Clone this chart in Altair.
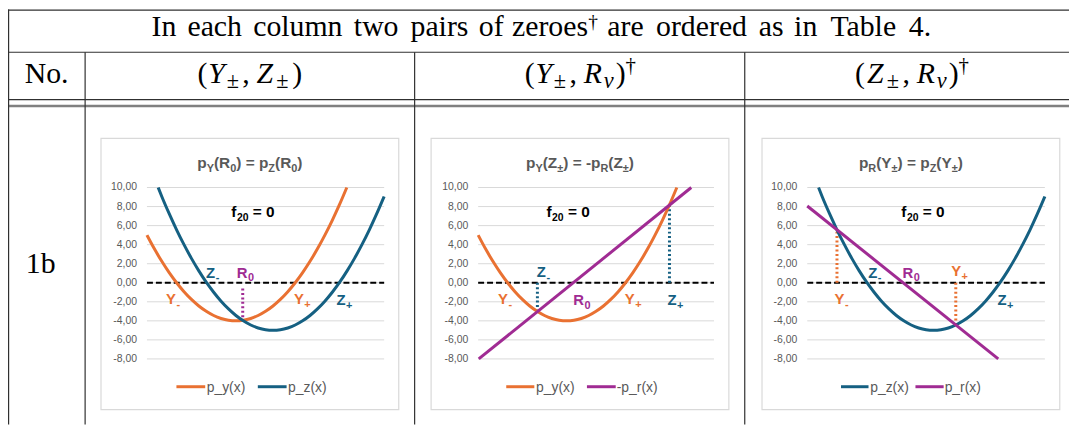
import altair as alt
import pandas as pd

# ---------------- chart values ----------------
X_PY = [-3.0, -2.75, -2.5, -2.25, -2.0, -1.75, -1.5, -1.25, -1.0, -0.75, -0.5, -0.25, 0.0,
        0.25, 0.5, 0.75, 1.0, 1.25, 1.5, 1.75, 2.0, 2.25, 2.5, 2.75, 3.0, 3.25, 3.5, 3.74]
P_Y = [5.0, 3.56, 2.25, 1.06, 0.0, -0.94, -1.75, -2.44, -3.0, -3.44, -3.75, -3.94, -4.0,
       -3.94, -3.75, -3.44, -3.0, -2.44, -1.75, -0.94, 0.0, 1.06, 2.25, 3.56, 5.0, 6.56, 8.25, 10.0]
X_PZ = [-2.62, -2.5, -2.25, -2.0, -1.75, -1.5, -1.25, -1.0, -0.75, -0.5, -0.25, 0.0, 0.25, 0.5,
        0.75, 1.0, 1.25, 1.5, 1.75, 2.0, 2.25, 2.5, 2.75, 3.0, 3.25, 3.5, 3.75, 4.0, 4.25, 4.5, 4.75, 5.0]
P_Z = [10.0, 9.06, 7.25, 5.56, 4.0, 2.56, 1.25, 0.06, -1.0, -1.94, -2.75, -3.44, -4.0, -4.44,
       -4.75, -4.94, -5.0, -4.94, -4.75, -4.44, -4.0, -3.44, -2.75, -1.94, -1.0, 0.06, 1.25, 2.56,
       4.0, 5.56, 7.25, 9.06]
X_NEG_PR = [-2.98, 4.23]
NEG_P_R = [-8.0, 10.0]
X_PR = [-3.0, 3.43]
P_R = [8.06, -8.0]

X_DOMAIN = [-3, 5]
Y_DOMAIN = [-8, 10]
Y_TICKS = [10, 8, 6, 4, 2, 0, -2, -4, -6, -8]
Y_TICK_LABELS = ["10,00", "8,00", "6,00", "4,00", "2,00", "0,00", "-2,00", "-4,00", "-6,00", "-8,00"]

PANEL_SERIES = [["p_y(x)", "p_z(x)"], ["p_y(x)", "-p_r(x)"], ["p_z(x)", "p_r(x)"]]

# dotted drop lines: x, y from, y to
DROPS = [
    [(0.23, -0.6, -3.95)],
    [(-0.99, 0.0, -3.03), (3.49, 0.0, 8.15)],
    [(-2.0, 0.0, 5.56), (2.0, 0.0, -4.44)],
]
# zero labels: letter, subscript, x, y, series colour key
LABELS = [
    [("Z", "-", -0.70, 0.52, "b"), ("R", "0", 0.39, 0.52, "p"), ("Y", "-", -2.02, -2.26, "o"),
     ("Y", "+", 2.29, -2.26, "o"), ("Z", "+", 3.70, -2.36, "b")],
    [("Z", "-", -0.70, 0.58, "b"), ("Y", "-", -1.99, -2.26, "o"), ("R", "0", 0.59, -2.36, "p"),
     ("Y", "+", 2.31, -2.26, "o"), ("Z", "+", 3.73, -2.36, "b")],
    [("Y", "-", -1.75, -2.26, "o"), ("Z", "-", -0.64, 0.52, "b"), ("R", "0", 0.57, 0.52, "p"),
     ("Y", "+", 2.18, 0.69, "o"), ("Z", "+", 3.71, -2.36, "b")],
]
F20_POS = [(0.02, 6.88), (-0.51, 6.88), (0.34, 6.88)]

# chart titles as (text, is_subscript) pieces
TITLES = [
    [("p", 0), ("Y", 1), ("(R", 0), ("0", 1), (") = p", 0), ("Z", 1), ("(R", 0), ("0", 1), (")", 0)],
    [("p", 0), ("Y", 1), ("(Z", 0), ("±", 1), (") = -p", 0), ("R", 1), ("(Z", 0), ("±", 1), (")", 0)],
    [("p", 0), ("R", 1), ("(Y", 0), ("±", 1), (") = p", 0), ("Z", 1), ("(Y", 0), ("±", 1), (")", 0)],
]

HEADER_SENTENCE = "In each column two pairs of zeroes† are ordered as in Table 4."
COL_NO = "No."
ROW_LABEL = "1b"
# column headers: (text, italic, level 0 normal / 1 sub / 2 sup, extra space after in em)
COL_HEADS = [
    [("(", 0, 0, 0), ("Y", 1, 0, 0), ("±", 0, 1, 0.05), (",", 0, 0, 0.167), ("Z", 1, 0, 0),
     ("±", 0, 1, 0.05), (")", 0, 0, 0)],
    [("(", 0, 0, 0), ("Y", 1, 0, 0), ("±", 0, 1, 0.05), (",", 0, 0, 0.167), ("R", 1, 0, 0),
     ("ν", 1, 1, 0.05), (")", 0, 0, 0), ("†", 0, 2, 0)],
    [("(", 0, 0, 0), ("Z", 1, 0, 0), ("±", 0, 1, 0.05), (",", 0, 0, 0.167), ("R", 1, 0, 0),
     ("ν", 1, 1, 0.05), (")", 0, 0, 0), ("†", 0, 2, 0)],
]

# ---------------- styles / layout ----------------
ORANGE, BLUE, PURPLE = "#E97132", "#156082", "#A02B93"
COLS = {"o": ORANGE, "b": BLUE, "p": PURPLE}
SERIES = {"p_y(x)": (X_PY, P_Y, ORANGE), "p_z(x)": (X_PZ, P_Z, BLUE),
          "-p_r(x)": (X_NEG_PR, NEG_P_R, PURPLE), "p_r(x)": (X_PR, P_R, PURPLE)}
DROP_COLOR = [PURPLE, BLUE, ORANGE]
GRAY = "#595959"
GRID = "#D9D9D9"
SANS = "Liberation Sans"
SERIF = "Liberation Serif"
W, H = 1069, 418

FRAME_LEFT = [93.7, 426.3, 759.7]
FRAME_TOP, FRAME_BOTTOM = 129.7, 403.0
PLOT_X = [(140.0, 379.0), (473.7, 711.3), (805.3, 1044.7)]
Y_PIX_BOTTOM, Y_PIX_TOP = 352.0, 179.3
LEGEND_POS = [[(76, 105, 106.5), (158, 187, 188.5)],
              [(75.7, 104, 105.7), (157, 186, 187)],
              [(79.6, 107.3, 109), (154.6, 183, 184)]]

ARIAL_B = {' ': 278, '(': 333, ')': 333, '-': 333, '=': 584, '±': 549, '0': 556, '2': 556,
           'R': 722, 'Y': 667, 'Z': 611, 'p': 611, 'f': 333}
CMR = {'I': 361, 'n': 556, 'e': 444, 'a': 500, 'c': 444, 'h': 556, 'o': 500, 'l': 278, 'u': 556,
       'm': 833, 't': 389, 'w': 722, 'p': 556, 'i': 278, 'r': 392, 's': 394, 'f': 306, 'z': 444,
       'd': 556, 'T': 722, 'b': 556, '4': 500, '.': 278, ' ': 333, 'N': 750, '1': 500, '(': 389,
       ')': 389, ',': 278, '†': 444, '±': 778}
CMMI = {'Y': 583, 'Z': 681, 'R': 759, 'ν': 485}


def w_ab(s, size):
    return sum(ARIAL_B.get(c, 556) for c in s) * size / 1000.0


def w_cm(s, size, italic=False):
    t = CMMI if italic else CMR
    return sum(t.get(c, 500) for c in s) * size / 1000.0


ANN = []


def put(x, y, s, size, color="#000000", font=SERIF, weight="normal", style="normal", align="left"):
    ANN.append(dict(x=x, y=y, text=s, size=size, color=color, font=font, weight=weight,
                    style=style, align=align))


# ---- table text ----
EM = 29.0
FS = 30.0
words = HEADER_SENTENCE.split(" ")
total = 0.0
for wd in words:
    total += w_cm(wd.replace("†", ""), EM) + (w_cm("†", EM * 0.7) if "†" in wd else 0)
total += w_cm(" ", EM) * (len(words) - 1)
xc = 537.0 - total / 2
for wd in words:
    main = wd.replace("†", "")
    put(xc + w_cm(main, EM) / 2, 27.0, main, FS, align="center")
    xc += w_cm(main, EM)
    if "†" in wd:
        put(xc + 0.5, 19.0, "†", FS * 0.65)
        xc += w_cm("†", EM * 0.7)
    xc += w_cm(" ", EM)

put(38.85, 73.7, COL_NO, FS, align="center")
put(18.0, 265.3, ROW_LABEL, FS)

COL_CENTERS = [243.7, 576.0, 910.0]
for pieces, cx in zip(COL_HEADS, COL_CENTERS):
    def gw(p):
        t, it, lvl, extra = p
        return w_cm(t, EM * (0.7 if lvl else 1.0), bool(it))
    tot = sum(gw(p) + p[3] * EM for p in pieces)
    xx = cx - tot / 2
    for p in pieces:
        t, it, lvl, extra = p
        fs = FS * ({0: 1.0, 1: 0.75, 2: 0.7}[lvl])
        dy = {0: 0, 1: 5.5, 2: -11.0}[lvl]
        put(xx + gw(p) / 2, 73.7 + dy, t, fs, style="italic" if it else "normal", align="center")
        xx += gw(p) + extra * EM

# ---- chart titles and legends ----
RULES = []
# table lines (x, x2, y, y2, colour, width)
for y in [0.6, 43.0, 90.7]:
    RULES.append((0, W, y, y, "#303030", 1.2))
RULES.append((0, W, 97.2, 97.2, "#808080", 2.6))
RULES.append((0.6, 0.6, 0, H, "#303030", 1.2))
for x in [77.7, 409.7, 742.3]:
    RULES.append((x, x, 43.0, H, "#303030", 1.2))

for i in range(3):
    fl = FRAME_LEFT[i]
    size, sub = 15.5, 11.0
    tot = sum(w_ab(t, sub if s else size) for t, s in TITLES[i])
    xx = fl + 150 - tot / 2
    for t, s in TITLES[i]:
        fs = sub if s else size
        lead = len(t) - len(t.lstrip())
        put(xx + w_ab(t[:lead], fs), 160.0 + (3.5 if s else 0), t.strip(), fs, GRAY, SANS, "bold")
        xx += w_ab(t, fs)
    for name, (a, b, tx) in zip(PANEL_SERIES[i], LEGEND_POS[i]):
        RULES.append((fl + a, fl + b, 380.0, 380.0, SERIES[name][2], 3.0))
        put(fl + tx, 385.0, name, 14, GRAY, SANS)

frames = pd.DataFrame({"x": FRAME_LEFT, "x2": [f + 300 for f in FRAME_LEFT],
                       "y": [FRAME_TOP] * 3, "y2": [FRAME_BOTTOM] * 3})
frame_layer = alt.Chart(frames).mark_rect(fill="#ffffff", stroke="#D9D9D9", strokeWidth=1.2).encode(
    x=alt.X("x:Q", scale=None, axis=None), x2="x2",
    y=alt.Y("y:Q", scale=None, axis=None), y2="y2")

rules = pd.DataFrame(RULES, columns=["x", "x2", "y", "y2", "color", "w"])
rule_layer = alt.Chart(rules).mark_rule().encode(
    x=alt.X("x:Q", scale=None, axis=None), x2="x2",
    y=alt.Y("y:Q", scale=None, axis=None), y2="y2",
    color=alt.Color("color:N", scale=None, legend=None),
    strokeWidth=alt.StrokeWidth("w:Q", scale=None, legend=None))

ann = pd.DataFrame(ANN)
ann_layers = []
for (font, weight, style, align), g in ann.groupby(["font", "weight", "style", "align"]):
    ann_layers.append(alt.Chart(g.drop(columns=["font", "weight", "style", "align"])).mark_text(
        align=align, baseline="alphabetic", font=font, fontWeight=weight, fontStyle=style).encode(
        x=alt.X("x:Q", scale=None, axis=None),
        y=alt.Y("y:Q", scale=None, axis=None),
        text="text:N",
        size=alt.Size("size:Q", scale=None, legend=None),
        color=alt.Color("color:N", scale=None, legend=None)))


def panel(i):
    px0, px1 = PLOT_X[i]
    xs = alt.Scale(domain=X_DOMAIN, range=[px0, px1], nice=False, zero=False)
    ys = alt.Scale(domain=Y_DOMAIN, range=[Y_PIX_BOTTOM, Y_PIX_TOP], nice=False, zero=False)

    def X(f):
        return alt.X(f, type="quantitative", scale=xs, axis=None)

    def Y(f):
        return alt.Y(f, type="quantitative", scale=ys, axis=None)

    layers = []
    grid = pd.DataFrame({"y": Y_TICKS, "x0": X_DOMAIN[0], "x1": X_DOMAIN[1]})
    layers.append(alt.Chart(grid).mark_rule(color=GRID, strokeWidth=1).encode(
        x=X("x0"), x2="x1", y=Y("y")))
    ticks = pd.DataFrame({"y": Y_TICKS, "label": Y_TICK_LABELS})
    layers.append(alt.Chart(ticks).mark_text(align="right", baseline="middle", font=SANS,
                                             fontSize=10.5, color=GRAY).encode(
        x=alt.value(px0 - 10), y=Y("y"), text="label:N"))
    zero = pd.DataFrame({"x0": [X_DOMAIN[0]], "x1": [X_DOMAIN[1]], "y": [0]})
    layers.append(alt.Chart(zero).mark_rule(color="#000000", strokeWidth=1.8, strokeDash=[6, 3]).encode(
        x=X("x0"), x2="x1", y=Y("y")))
    dxs, y0s, y1s = zip(*DROPS[i])
    drops = pd.DataFrame({"x": dxs, "y0": y0s, "y1": y1s})
    layers.append(alt.Chart(drops).mark_rule(color=DROP_COLOR[i], strokeWidth=3,
                                             strokeDash=[2, 2.5]).encode(
        x=X("x"), y=Y("y0"), y2="y1"))
    for name in PANEL_SERIES[i]:
        xv, yv, col = SERIES[name]
        df = pd.DataFrame({"x": xv, "y": yv})
        layers.append(alt.Chart(df).mark_line(color=col, strokeWidth=3, interpolate="monotone").encode(
            x=X("x"), y=Y("y")))
    lab = pd.DataFrame([dict(main=m, sub=s, x=x, y=y, color=COLS[c]) for m, s, x, y, c in LABELS[i]])
    layers.append(alt.Chart(lab).mark_text(align="right", baseline="alphabetic", font=SANS,
                                           fontSize=15, fontWeight="bold").encode(
        x=X("x"), y=Y("y"), text="main:N", color=alt.Color("color:N", scale=None, legend=None)))
    layers.append(alt.Chart(lab).mark_text(align="left", baseline="alphabetic", font=SANS,
                                           fontSize=11, fontWeight="bold", dy=3.5, dx=0.5).encode(
        x=X("x"), y=Y("y"), text="sub:N", color=alt.Color("color:N", scale=None, legend=None)))
    fx, fy = F20_POS[i]
    f = pd.DataFrame({"x": [fx], "y": [fy], "a": ["f"], "b": ["20"], "c": ["= 0"]})
    layers.append(alt.Chart(f).mark_text(align="right", baseline="alphabetic", font=SANS,
                                         fontSize=15.5, fontWeight="bold", color="#000000").encode(
        x=X("x"), y=Y("y"), text="a:N"))
    layers.append(alt.Chart(f).mark_text(align="left", baseline="alphabetic", font=SANS,
                                         fontSize=10.5, fontWeight="bold", color="#000000",
                                         dx=0.5, dy=4).encode(
        x=X("x"), y=Y("y"), text="b:N"))
    layers.append(alt.Chart(f).mark_text(align="left", baseline="alphabetic", font=SANS,
                                         fontSize=15.5, fontWeight="bold", color="#000000",
                                         dx=w_ab("20", 10.5) + w_ab(" ", 15.5) + 0.5).encode(
        x=X("x"), y=Y("y"), text="c:N"))
    return alt.layer(*layers)


chart = alt.layer(frame_layer, rule_layer, panel(0), panel(1), panel(2), *ann_layers).resolve_scale(
    x="independent", y="independent", color="independent", size="independent"
).properties(
    width=W, height=H, autosize=alt.AutoSizeParams(type="none"), padding=0, background="#ffffff"
).configure_view(strokeWidth=0)

chart.save("out.html", embed_options={"renderer": "svg", "actions": False})
